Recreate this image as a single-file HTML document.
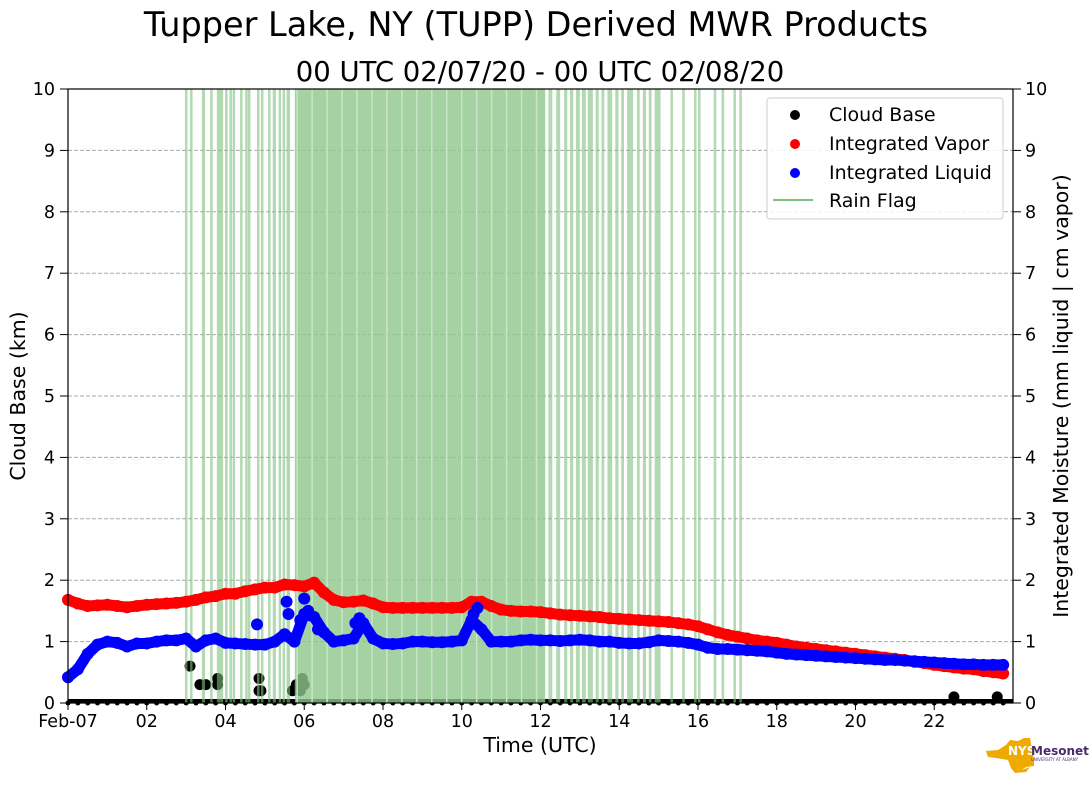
<!DOCTYPE html>
<html><head><meta charset="utf-8"><style>
body{margin:0;background:#fff;width:1089px;height:804px;overflow:hidden;font-family:"DejaVu Sans","Liberation Sans",sans-serif}
</style></head><body>
<svg id="chart" width="1089" height="804" xmlns="http://www.w3.org/2000/svg" font-family="DejaVu Sans, Liberation Sans, sans-serif">
<text x="536" y="36" font-size="33.5" text-anchor="middle">Tupper Lake, NY (TUPP) Derived MWR Products</text>
<text x="540" y="81" font-size="27.5" text-anchor="middle">00 UTC 02/07/20 - 00 UTC 02/08/20</text>
<g id="grid"></g>
<g id="cb"></g>
<g id="rain"></g>
<g id="vap"></g>
<g id="liq"></g>
<rect x="68" y="89" width="945" height="614" fill="none" stroke="#000" stroke-width="1.2"/>
<g id="axes"></g>
<text x="540" y="752" font-size="20.5" text-anchor="middle">Time (UTC)</text>
<text transform="translate(25,396) rotate(-90)" font-size="20.5" text-anchor="middle">Cloud Base (km)</text>
<text transform="translate(1068,396) rotate(-90)" font-size="20.5" text-anchor="middle">Integrated Moisture (mm liquid | cm vapor)</text>
<g>
<rect x="767" y="98" width="236" height="121" rx="3" fill="#fff" fill-opacity="0.85" stroke="#ccc"/>
<circle cx="795" cy="115" r="5" fill="#000"/><text x="829" y="121" font-size="19">Cloud Base</text>
<circle cx="795" cy="144" r="5" fill="#f00"/><text x="829" y="150" font-size="19">Integrated Vapor</text>
<circle cx="795" cy="173" r="5" fill="#00f"/><text x="829" y="179" font-size="19">Integrated Liquid</text>
<line x1="773" y1="200" x2="813" y2="200" stroke="#7fbf7f" stroke-width="2"/><text x="829" y="207" font-size="19">Rain Flag</text>
</g>
<g>
<polygon points="986,751 998,750 1006,745 1010,740 1018,741 1024,738 1030,738 1032,749 1034,760 1034,766 1026,767 1022,770 1030,767 1026,772 1015,773 1011,768 1008,760 996,758 988,757" fill="#eeaa00"/>
<text x="1008" y="755" font-size="12" font-weight="bold" fill="#fff">NYS</text>
<text x="1031" y="755" font-size="12" font-weight="bold" fill="#4b2a6b">Mesonet</text>
<text x="1031" y="761" font-size="4" fill="#4b2a6b">UNIVERSITY AT ALBANY</text>
</g>
</svg>
<script>
const hourTicks=[0,2,4,6,8,10,12,14,16,18,20,22];
const hourLabels=["Feb-07","02","04","06","08","10","12","14","16","18","20","22"];
const yTicks=[0,1,2,3,4,5,6,7,8,9,10];
const vapor=[1.68,1.62,1.58,1.59,1.60,1.58,1.56,1.58,1.60,1.61,1.62,1.63,1.65,1.68,1.72,1.74,1.78,1.78,1.82,1.85,1.88,1.88,1.93,1.92,1.90,1.96,1.80,1.68,1.64,1.65,1.67,1.62,1.56,1.55,1.55,1.55,1.55,1.55,1.55,1.55,1.56,1.65,1.65,1.58,1.52,1.50,1.49,1.49,1.48,1.46,1.44,1.43,1.42,1.41,1.40,1.38,1.37,1.36,1.35,1.34,1.33,1.32,1.30,1.28,1.25,1.20,1.15,1.11,1.08,1.05,1.02,1.00,0.98,0.95,0.92,0.90,0.88,0.86,0.84,0.82,0.80,0.78,0.76,0.74,0.72,0.70,0.67,0.65,0.62,0.60,0.58,0.56,0.55,0.52,0.50,0.48];
const liquid=[0.42,0.55,0.80,0.95,1.00,0.98,0.92,0.97,0.97,1.00,1.02,1.02,1.05,0.92,1.02,1.05,0.98,0.97,0.96,0.95,0.95,1.00,1.12,1.00,1.45,1.40,1.15,1.00,1.02,1.05,1.30,1.05,0.97,0.96,0.97,1.00,1.00,0.99,0.99,1.00,1.02,1.35,1.20,1.00,1.00,1.00,1.02,1.03,1.02,1.02,1.01,1.02,1.03,1.02,1.00,1.00,0.98,0.97,0.97,0.99,1.02,1.01,1.00,0.98,0.95,0.90,0.88,0.88,0.87,0.86,0.85,0.84,0.82,0.80,0.79,0.78,0.77,0.76,0.75,0.74,0.73,0.72,0.71,0.70,0.70,0.69,0.68,0.67,0.66,0.65,0.64,0.63,0.63,0.62,0.62,0.62];
const liquidExtraTimes=[4.8,5.55,5.6,6.0,6.1,5.9,6.35,7.3,7.4,10.3,10.4];
const liquidExtraValues=[1.28,1.65,1.45,1.70,1.50,1.35,1.20,1.30,1.38,1.45,1.55];
const cloudTimes=[3.1,3.35,3.5,3.8,3.8,4.85,4.85,4.9,5.7,5.8,5.95,6.0,5.9,22.5,23.6];
const cloudValues=[0.6,0.3,0.3,0.4,0.3,0.4,0.2,0.2,0.2,0.3,0.4,0.3,0.2,0.1,0.1];
const rainStart=[2.97,3.10,3.40,3.61,3.78,3.99,4.10,4.18,4.37,4.50,4.57,4.80,4.90,5.08,5.20,5.35,5.45,5.55,5.76,12.20,12.40,12.60,12.75,12.90,13.05,13.20,13.40,13.55,13.70,13.90,14.05,14.20,14.45,14.60,14.75,14.90,15.30,15.60,15.90,16.00,16.40,16.60,16.90,17.05];
const rainEnd  =[3.00,3.13,3.48,3.65,3.94,4.05,4.14,4.24,4.42,4.53,4.62,4.84,4.94,5.14,5.28,5.40,5.50,5.64,12.12,12.30,12.50,12.68,12.83,13.00,13.15,13.33,13.48,13.62,13.82,13.98,14.12,14.35,14.52,14.68,14.82,15.05,15.33,15.63,15.93,16.03,16.43,16.63,16.93,17.10];
const X=h=>68+h*945/24, Y=v=>703-v*61.4;
const NS='http://www.w3.org/2000/svg';
function mk(t,a,p){const e=document.createElementNS(NS,t);for(const k in a)e.setAttribute(k,a[k]);p.appendChild(e);return e;}
const grid=document.getElementById('grid'),axes=document.getElementById('axes');
yTicks.forEach(v=>{
 if(v>0&&v<10){const g=mk('line',{x1:68,x2:1013,y1:Y(v),y2:Y(v),stroke:'#aaa','stroke-dasharray':'4,2'},grid);
 
 }
 [[60,68,'end',55],[1013,1021,'start',1025]].forEach(s=>{
  mk('line',{x1:s[0],x2:s[1],y1:Y(v),y2:Y(v),stroke:'#000'},axes);
  const t=mk('text',{x:s[3],y:Y(v)+6,'font-size':17.5,'text-anchor':s[2]},axes);t.textContent=v;
  
  
 });
});
hourTicks.forEach((h,i)=>{
 mk('line',{x1:X(h),x2:X(h),y1:703,y2:710,stroke:'#000'},axes);
 const t=mk('text',{x:X(h),y:727,'font-size':17.5,'text-anchor':'middle'},axes);t.textContent=hourLabels[i];
 
 
});
const cb=document.getElementById('cb');
for(let i=0;i<96;i++){const c=mk('circle',{cx:X(i/4),cy:703,r:2.5,fill:'#000'},cb);
 
 }
mk('rect',{x:68,y:699,width:945,height:4,fill:'#000'},cb);
cloudTimes.forEach((t,i)=>{const c=mk('circle',{cx:X(t),cy:Y(cloudValues[i]),r:5.5,fill:'#000'},cb);
 
 });
const rain=document.getElementById('rain');
rainStart.forEach((s,i)=>{const w=Math.max(2.5,X(rainEnd[i])-X(s));
 const r=mk('rect',{x:X(s),y:89,width:w,height:614,fill:w>200?'#8dc78c':'#7fbf7f','fill-opacity':w>200?0.8:0.6},rain);
 
 });
for(let h=5.8;h<12.1;h+=0.38){mk('rect',{x:X(h),y:89,width:1.5,height:614,fill:'#c8e5c8'},rain);}
function series(arr,col,g,name){
 mk('polyline',{points:arr.map((v,i)=>X(i/4)+','+Y(v)).join(' '),fill:'none',stroke:col,'stroke-width':11,'stroke-linejoin':'round','stroke-linecap':'round'},g);
 arr.forEach((v,i)=>{const c=mk('circle',{cx:X(i/4),cy:Y(v),r:6,fill:col},g);
  
  });
}
series(vapor,'#f00',document.getElementById('vap'),'vapor-point');
const liq=document.getElementById('liq');
series(liquid,'#00f',liq,'liquid-point');
liquidExtraTimes.forEach((t,i)=>{const c=mk('circle',{cx:X(t),cy:Y(liquidExtraValues[i]),r:6,fill:'#00f'},liq);
 
 });
</script>
</body></html>
